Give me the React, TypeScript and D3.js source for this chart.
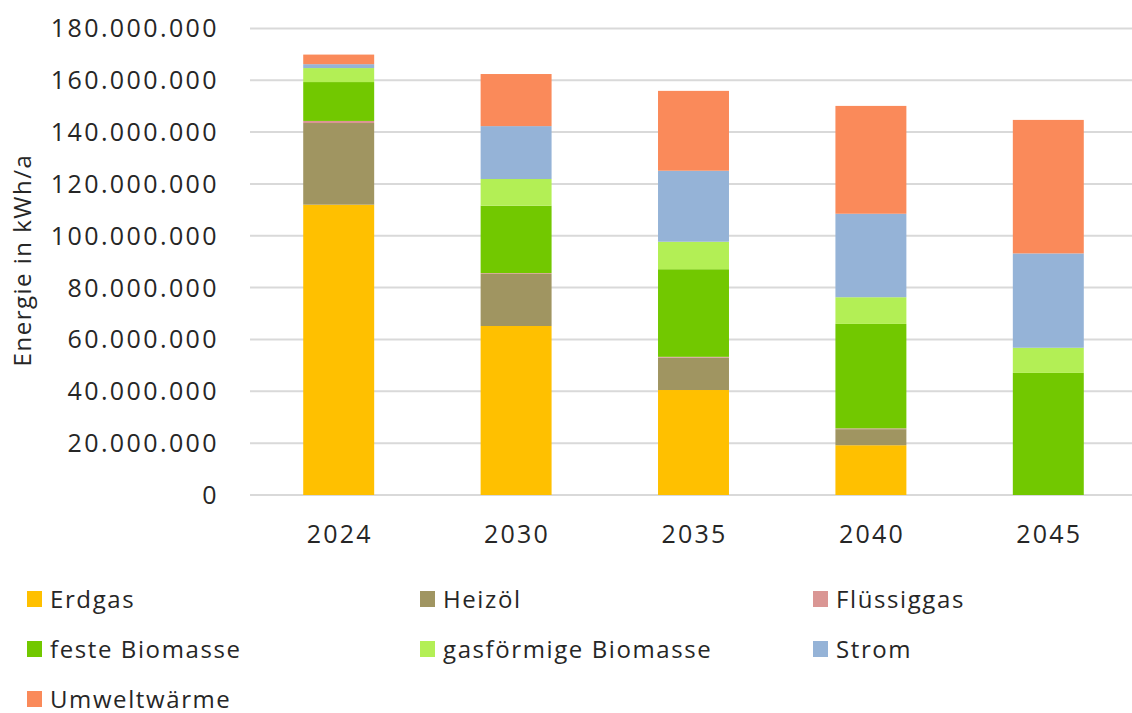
import React, { useEffect, useRef } from 'react';
import * as d3 from 'd3';

const years = ['2024', '2030', '2035', '2040', '2045'];
const seriesNames = ['Erdgas', 'Heizöl', 'Flüssiggas', 'feste Biomasse', 'gasförmige Biomasse', 'Strom', 'Umweltwärme'];
const seriesColors = ['#FFC000', '#A09561', '#DA9694', '#72C800', '#B3EF55', '#95B3D7', '#FA8A5A'];

// values in kWh/a, one array per series, in the order of years
const erdgas = [112000000, 65200000, 40500000, 19200000, 0];
const heizoel = [31500000, 20100000, 12500000, 6200000, 0];
const fluessiggas = [800000, 300000, 300000, 300000, 0];
const festeBiomasse = [15000000, 26000000, 33800000, 40300000, 47100000];
const gasBiomasse = [5400000, 10300000, 10600000, 10300000, 9700000];
const strom = [1500000, 20400000, 27400000, 32200000, 36400000];
const umweltwaerme = [3700000, 20100000, 30800000, 41600000, 51500000];

const yTicks = [0, 20000000, 40000000, 60000000, 80000000, 100000000, 120000000, 140000000, 160000000, 180000000];

const App: React.FC = () => {
  const svgRef = useRef<SVGSVGElement | null>(null);

  useEffect(() => {
    if (!svgRef.current) return;
    const width = 1132;
    const height = 713;
    const font = '"Open Sans", Lato, sans-serif';
    const textColor = '#262626';

    const svg = d3.select(svgRef.current);
    svg.selectAll('*').remove();
    svg.attr('width', width).attr('height', height);

    const allSeries = [erdgas, heizoel, fluessiggas, festeBiomasse, gasBiomasse, strom, umweltwaerme];
    const rows = years.map((year, i) => {
      const row: Record<string, any> = { year };
      seriesNames.forEach((name, s) => (row[name] = allSeries[s][i]));
      return row;
    });

    const stacked = d3.stack<any>().keys(seriesNames)(rows);

    const x = d3.scaleBand().domain(years).range([250, 1137]).paddingInner(0.6).paddingOuter(0.3);
    const y = d3.scaleLinear().domain([0, 180000000]).range([495, 28.4]);

    const fmt = (v: number) => d3.format(',')(v).replace(/,/g, '.');

    // gridlines
    svg
      .append('g')
      .selectAll('line')
      .data(yTicks)
      .enter()
      .append('line')
      .attr('x1', 250)
      .attr('x2', 1137)
      .attr('y1', (d) => y(d))
      .attr('y2', (d) => y(d))
      .attr('stroke', '#d9d9d9')
      .attr('stroke-width', 2);

    // bars
    svg
      .append('g')
      .selectAll('g')
      .data(stacked)
      .enter()
      .append('g')
      .attr('fill', (d, i) => seriesColors[i])
      .selectAll('rect')
      .data((d) => d)
      .enter()
      .append('rect')
      .attr('x', (d: any) => x(d.data.year)!)
      .attr('width', x.bandwidth())
      .attr('y', (d) => y(d[1]))
      .attr('height', (d) => y(d[0]) - y(d[1]));

    // y tick labels
    svg
      .append('g')
      .selectAll('text')
      .data(yTicks)
      .enter()
      .append('text')
      .attr('x', 219)
      .attr('y', (d) => y(d))
      .attr('dy', '0.36em')
      .attr('text-anchor', 'end')
      .style('font-family', font)
      .style('font-size', '25px')
      .style('letter-spacing', '2.4px')
      .attr('fill', textColor)
      .text((d) => fmt(d));

    // x tick labels
    svg
      .append('g')
      .selectAll('text')
      .data(years)
      .enter()
      .append('text')
      .attr('x', (d) => x(d)! + x.bandwidth() / 2 + 1)
      .attr('y', 543)
      .attr('text-anchor', 'middle')
      .style('font-family', font)
      .style('font-size', '25px')
      .style('letter-spacing', '2.2px')
      .attr('fill', textColor)
      .text((d) => d);

    // y axis title
    svg
      .append('text')
      .attr('transform', `translate(31, 260) rotate(-90)`)
      .attr('text-anchor', 'middle')
      .style('font-family', font)
      .style('font-size', '24px')
      .style('letter-spacing', '1.5px')
      .attr('fill', textColor)
      .text('Energie in kWh/a');

    // legend
    const legend = svg
      .append('g')
      .selectAll('g')
      .data(seriesNames)
      .enter()
      .append('g')
      .attr('transform', (d, i) => `translate(${27 + (i % 3) * 393}, ${599 + Math.floor(i / 3) * 50})`);

    legend
      .append('rect')
      .attr('x', 0)
      .attr('y', -8)
      .attr('width', 15)
      .attr('height', 16)
      .attr('fill', (d, i) => seriesColors[i]);

    legend
      .append('text')
      .attr('x', 23)
      .attr('y', 0)
      .attr('dy', '0.36em')
      .style('font-family', font)
      .style('font-size', '24px')
      .style('letter-spacing', '1.6px')
      .attr('fill', textColor)
      .text((d) => d);
  }, []);

  return (
    <div style={{ position: 'absolute', left: 0, top: 0 }}>
      <svg ref={svgRef} style={{ display: 'block' }}></svg>
    </div>
  );
};

export default App;
